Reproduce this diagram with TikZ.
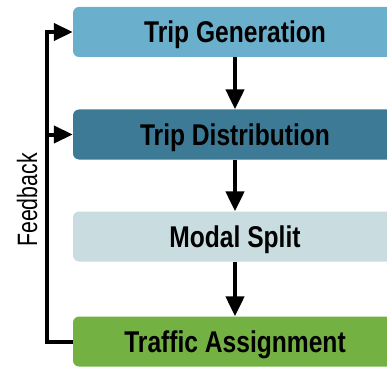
\documentclass[tikz,border=0pt]{standalone}
\usepackage{fontspec}
\setmainfont{Liberation Sans}
\newfontfamily\stagefont[FakeStretch=0.82]{Liberation Sans}
\newfontfamily\fbfont[FakeStretch=0.76]{Liberation Sans}
\usetikzlibrary{arrows.meta}
\pgfdeclarelayer{bg}
\pgfsetlayers{bg,main}
\definecolor{genblue}{HTML}{6AAFCB}
\definecolor{distblue}{HTML}{3D7A96}
\definecolor{modegrey}{HTML}{C9DDE1}
\definecolor{assigngreen}{HTML}{72B142}

\begin{document}
\begin{tikzpicture}[x=1pt, y=-1pt,
        stage/.style={rounded corners=6pt, minimum width=324pt, minimum height=50pt,
                inner sep=0pt, text height=21.5pt, text depth=0pt,
                font=\stagefont\bfseries\fontsize{30}{30}\selectfont},
        flow/.style={line width=4.5pt, -{Triangle[length=20pt, width=18pt]}},
        back/.style={line width=4pt, -{Triangle[length=19pt, width=17pt]}}]
        \clip (0,0) rectangle (387,366);
        \node (v0) [stage, fill=genblue] at (235, 32) {Trip Generation};
        \node (v1) [stage, fill=distblue] at (235, 134.5) {Trip Distribution};
        \node (v2) [stage, fill=modegrey] at (235, 236.5) {Modal Split};
        \node (v3) [stage, fill=assigngreen] at (235, 341.5) {Traffic Assignment};
        \node (v4) [rotate=90, inner sep=0pt, text depth=0pt,
                font=\fbfont\fontsize{28}{28}\selectfont] at (27, 200) {Feedback};
        \coordinate (c0) at (47, 32);
        \coordinate (c1) at (45, 134.5);
        \begin{pgfonlayer}{bg}
                \draw (v0) edge [flow] (v1);
                \draw (v1) edge [flow] (v2);
                \draw (v2) edge [flow] (v3);
                \draw [back] (v3.west) -| (c0) -- (v0.west);
                \draw (c1) edge [back] (v1.west);
        \end{pgfonlayer}
\end{tikzpicture}
\end{document}
